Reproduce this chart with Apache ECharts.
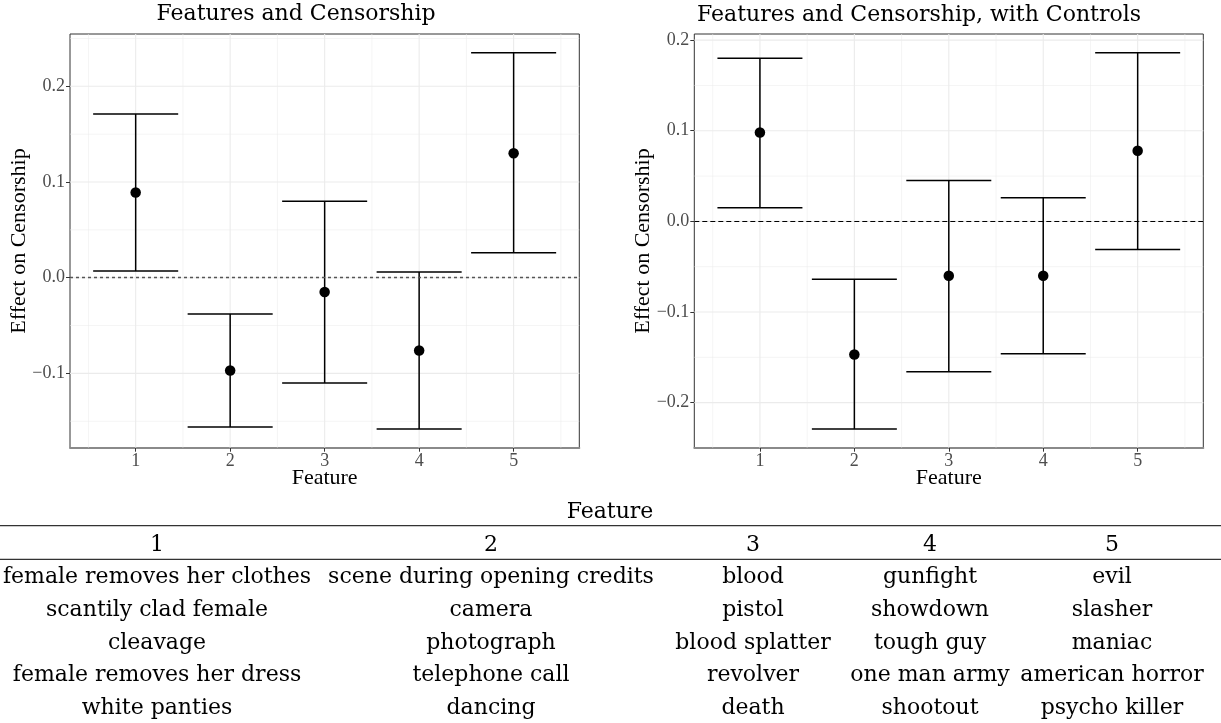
<!DOCTYPE html>
<html><head><meta charset="utf-8">
<script src="https://cdn.jsdelivr.net/npm/echarts@6/dist/echarts.min.js"></script>
<style>html,body{margin:0;padding:0;background:#fff}#c{width:1221px;height:723px}</style>
</head><body><div id="c"></div>
<script>
// ---------- data ----------
const features = [1, 2, 3, 4, 5];
const est1 = [0.089, -0.097, -0.015, -0.076, 0.130];
const lo1  = [0.007, -0.156, -0.110, -0.158, 0.026];
const hi1  = [0.171, -0.038, 0.080, 0.006, 0.235];
const est2 = [0.098, -0.147, -0.060, -0.060, 0.078];
const lo2  = [0.015, -0.229, -0.166, -0.146, -0.031];
const hi2  = [0.180, -0.064, 0.045, 0.026, 0.186];
const xTicks = [1, 2, 3, 4, 5];
const yTicks1 = [-0.1, 0, 0.1, 0.2];
const yTicks2 = [-0.2, -0.1, 0, 0.1, 0.2];
const titles = ['Features and Censorship', 'Features and Censorship, with Controls'];
const xName = 'Feature';
const yName = 'Effect on Censorship';
const tableTitle = 'Feature';
const tableHeader = ['1', '2', '3', '4', '5'];
const tableCol1 = ['female removes her clothes', 'scantily clad female', 'cleavage', 'female removes her dress', 'white panties'];
const tableCol2 = ['scene during opening credits', 'camera', 'photograph', 'telephone call', 'dancing'];
const tableCol3 = ['blood', 'pistol', 'blood splatter', 'revolver', 'death'];
const tableCol4 = ['gunfight', 'showdown', 'tough guy', 'one man army', 'shootout'];
const tableCol5 = ['evil', 'slasher', 'maniac', 'american horror', 'psycho killer'];

// ---------- layout ----------
const ERR_HALF = 0.45;
function expand(lo, hi) { const r = hi - lo; return [lo - 0.05 * r, hi + 0.05 * r]; }
const xExt = expand(Math.min(...features) - ERR_HALF, Math.max(...features) + ERR_HALF);
const yExt1 = expand(Math.min(...lo1), Math.max(...hi1));
const yExt2 = expand(Math.min(...lo2), Math.max(...hi2));
function minorBetween(major, ext) {
  const step = major[1] - major[0];
  const out = [];
  for (let v = major[0] - step / 2; v <= ext[1] + 1e-9; v += step) {
    if (v >= ext[0] - 1e-9) out.push(+v.toFixed(4));
  }
  return out;
}
const AX_FONT = '"Liberation Serif", "Times New Roman", serif';
const TX_FONT = '"DejaVu Serif", serif';
const fmtY = v => (v < -1e-9 ? '\u2212' : '') + Math.abs(v).toFixed(1);

const grids = [
  { left: 70, top: 34, width: 509.3, height: 413.7 },
  { left: 694.3, top: 34, width: 509, height: 413.7 }
].map(g => Object.assign(g, { show: true, borderColor: '#333', borderWidth: 1, backgroundColor: '#fff', containLabel: false }));

function xAxisFor(i) {
  return {
    type: 'value', gridIndex: i, min: xExt[0], max: xExt[1],
    axisLine: { show: true, onZero: false, lineStyle: { color: '#8a8a8a', width: 2 } },
    axisTick: { show: true, customValues: xTicks, length: 4, lineStyle: { color: '#333', width: 1 } },
    axisLabel: { customValues: xTicks, color: '#4d4d4d', fontFamily: AX_FONT, fontSize: 18, margin: 5, formatter: v => String(Math.round(v)) },
    splitLine: { show: false }
  };
}
function yAxisFor(i, ext, ticks) {
  return {
    type: 'value', gridIndex: i, min: ext[0], max: ext[1],
    axisLine: { show: false },
    axisTick: { show: true, customValues: ticks, length: 4, lineStyle: { color: '#333', width: 1 } },
    axisLabel: { customValues: ticks, color: '#4d4d4d', fontFamily: AX_FONT, fontSize: 18, margin: 5, formatter: fmtY },
    splitLine: { show: false }
  };
}

function gridLineSeries(i, yTicks, yExt, zeroStyle) {
  const data = [];
  minorBetween(xTicks, xExt).forEach(v => data.push([0, v, 0]));
  minorBetween(yTicks, yExt).forEach(v => data.push([1, v, 0]));
  xTicks.forEach(v => data.push([0, v, 1]));
  yTicks.forEach(v => data.push([1, v, 1]));
  return {
    type: 'custom', xAxisIndex: i, yAxisIndex: i, z: 1, silent: true, clip: false,
    data: data,
    renderItem: (params, api) => {
      const cs = params.coordSys;
      const dir = api.value(0), v = api.value(1), major = api.value(2);
      let shape;
      if (dir === 0) {
        const x = api.coord([v, yExt[0]])[0];
        shape = { x1: x, y1: cs.y, x2: x, y2: cs.y + cs.height };
      } else {
        const y = api.coord([xExt[0], v])[1];
        shape = { x1: cs.x, y1: y, x2: cs.x + cs.width, y2: y };
      }
      return { type: 'line', shape, style: { stroke: '#ebebeb', lineWidth: major ? 1.1 : 0.55 } };
    },
    markLine: {
      silent: true, symbol: ['none', 'none'], label: { show: false }, animation: false,
      lineStyle: zeroStyle, data: [{ yAxis: 0 }]
    }
  };
}

function errSeries(i, lo, hi) {
  return {
    type: 'custom', xAxisIndex: i, yAxisIndex: i, z: 3, silent: true,
    data: features.map((f, k) => [f, lo[k], hi[k]]),
    encode: { x: 0, y: [1, 2] },
    renderItem: (params, api) => {
      const x = api.value(0), l = api.value(1), h = api.value(2);
      const pt = api.coord([x, h]), pb = api.coord([x, l]);
      const hw = api.size([ERR_HALF, 0])[0];
      const st = { stroke: '#000', lineWidth: 1.5 };
      return { type: 'group', children: [
        { type: 'line', shape: { x1: pt[0], y1: pt[1], x2: pb[0], y2: pb[1] }, style: st },
        { type: 'line', shape: { x1: pt[0] - hw, y1: pt[1], x2: pt[0] + hw, y2: pt[1] }, style: st },
        { type: 'line', shape: { x1: pb[0] - hw, y1: pb[1], x2: pb[0] + hw, y2: pb[1] }, style: st }
      ] };
    }
  };
}
function pointSeries(i, est) {
  return {
    type: 'scatter', xAxisIndex: i, yAxisIndex: i, z: 4, silent: true,
    symbol: 'circle', symbolSize: 10.5, itemStyle: { color: '#000', opacity: 1 },
    data: features.map((f, k) => [f, est[k]])
  };
}

// ---------- graphic text ----------
const graphics = [];
function txt(text, x, y, font, size, opts) {
  graphics.push(Object.assign({
    type: 'text', x: x, y: y, silent: true,
    style: { text: text, fontFamily: font, fontSize: size, fill: '#000', align: 'center', verticalAlign: 'middle', textAlign: 'center', textVerticalAlign: 'middle' }
  }, opts || {}));
}
txt(titles[0], 296, 14.5, TX_FONT, 22);
txt(titles[1], 919, 15.5, TX_FONT, 22);
txt(yName, 19, 241, AX_FONT, 22, { rotation: Math.PI / 2 });
txt(yName, 643, 241, AX_FONT, 22, { rotation: Math.PI / 2 });
txt(xName, 70 + 509.3 / 2, 478, AX_FONT, 22);
txt(xName, 694.3 + 509 / 2, 478, AX_FONT, 22);

// table
const colX = [157, 491, 753, 930, 1112];
const rowY0 = 577, rowStep = 32.9;
txt(tableTitle, 610, 512.5, TX_FONT, 22);
[525.7, 559.3].forEach(y => graphics.push({ type: 'line', silent: true, shape: { x1: 0, y1: y, x2: 1221, y2: y }, style: { stroke: '#333', lineWidth: 1.3 } }));
tableHeader.forEach((h, c) => txt(h, colX[c], 545, TX_FONT, 22));
[tableCol1, tableCol2, tableCol3, tableCol4, tableCol5].forEach((col, c) => {
  col.forEach((t, r) => txt(t, colX[c], rowY0 + r * rowStep, TX_FONT, 22));
});

const chart = echarts.init(document.getElementById('c'), null, { renderer: 'canvas' });
chart.setOption({
  animation: false,
  backgroundColor: '#fff',
  grid: grids,
  xAxis: [xAxisFor(0), xAxisFor(1)],
  yAxis: [yAxisFor(0, yExt1, yTicks1), yAxisFor(1, yExt2, yTicks2)],
  series: [
    gridLineSeries(0, yTicks1, yExt1, { color: '#555', type: [3, 3], width: 1.3 }),
    gridLineSeries(1, yTicks2, yExt2, { color: '#000', type: [5, 3], width: 1.1 }),
    errSeries(0, lo1, hi1), errSeries(1, lo2, hi2),
    pointSeries(0, est1), pointSeries(1, est2)
  ],
  graphic: graphics
});
</script></body></html>
